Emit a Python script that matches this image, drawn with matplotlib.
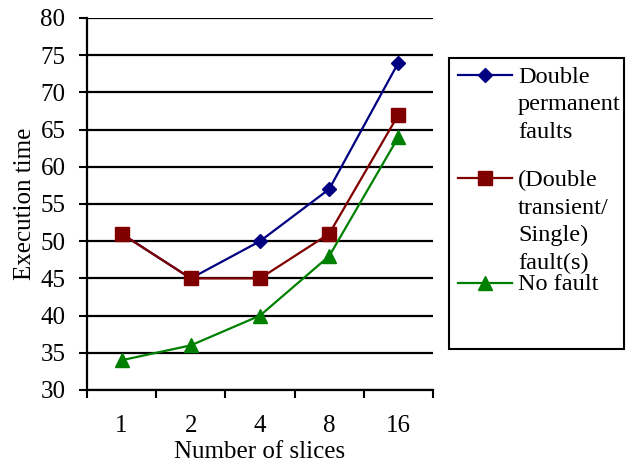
import matplotlib
matplotlib.use("Agg")
import matplotlib.pyplot as plt
import numpy as np
from matplotlib.patches import Rectangle
from matplotlib.lines import Line2D

plt.rcParams['font.family'] = ['Liberation Serif', 'DejaVu Serif']

categories = ['1', '2', '4', '8', '16']
double_permanent = [51, 45, 50, 57, 74]
double_transient = [51, 45, 45, 51, 67]
no_fault = [34, 36, 40, 48, 64]
series_names = ['Double\npermanent\nfaults', '(Double\ntransient/\nSingle)\nfault(s)', 'No fault']
colors = ['#000080', '#800000', '#008000']
markers = ['D', 's', '^']
msizes = [7.6, 10.5, 10.5]
yticks = [30, 35, 40, 45, 50, 55, 60, 65, 70, 75, 80]

fig = plt.figure(figsize=(6.31, 4.63), dpi=100)
ax = fig.add_axes([87/631, 1-390/463, (433-87)/631, (390-18)/463])

x = np.arange(len(categories))

for ys, c, m, ms in zip([double_permanent, double_transient, no_fault], colors, markers, msizes):
    ax.plot(x, ys, color=c, lw=1.6, marker=m, markersize=ms, zorder=4, clip_on=False)

ax.set_xlim(-0.5, 4.5)
ax.set_ylim(30, 80)
ax.set_yticks(yticks)
ax.set_xticks(x)
ax.set_xticklabels(categories)
ax.set_xticks(np.arange(-0.5, 5.0, 1.0), minor=True)
ax.tick_params(axis='x', which='major', length=0, pad=18, labelsize=18)
ax.tick_params(axis='x', which='minor', length=5.5, width=1.5, direction='out')
ax.tick_params(axis='y', length=6, width=1.5, pad=9.5, labelsize=18, direction='out')
ax.yaxis.grid(True, color='black', lw=1.6)
ax.set_axisbelow(True)
for s in ['top', 'right']:
    ax.spines[s].set_visible(False)
for s in ['left', 'bottom']:
    ax.spines[s].set_linewidth(1.6)
ax.set_xlabel('Number of slices', fontsize=18, labelpad=3)
ax.set_ylabel('Execution time', fontsize=18, labelpad=3)

# legend box
W, H = 631, 463
fig.add_artist(Rectangle((449/W, 1-349/H), (624-449)/W, (349-58)/H, transform=fig.transFigure,
                         facecolor='white', edgecolor='black', lw=1.5))
handle_y = [75, 178, 283]
text_top = [67, 170, 274]
for name, c, m, ms, hy, ty in zip(series_names, colors, markers, msizes, handle_y, text_top):
    fig.add_artist(Line2D([458/W, 512/W], [1-hy/H, 1-hy/H], transform=fig.transFigure,
                          color=c, lw=1.6, zorder=5))
    fig.add_artist(Line2D([485/W], [1-hy/H], transform=fig.transFigure,
                          color=c, marker=m, markersize=ms, linestyle='none', zorder=6))
    fig.text(518/W, 1-ty/H, name, fontsize=17.5, va='top', ha='left', linespacing=1.4)

fig.savefig('out.png', dpi=100)
